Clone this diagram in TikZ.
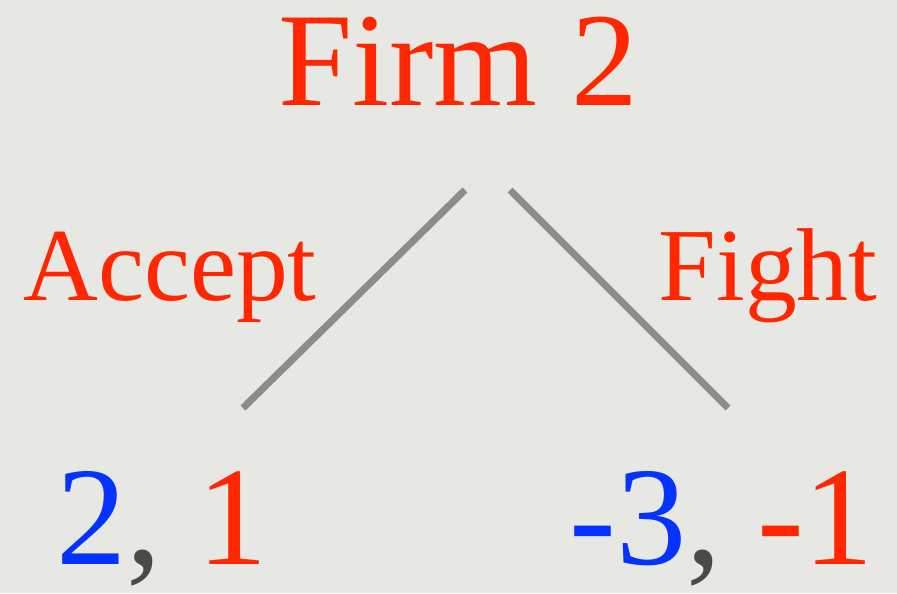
\documentclass[tikz,border=0pt]{standalone}
\usepackage{fontspec}
\setmainfont{Liberation Serif}
\usetikzlibrary{positioning}
\definecolor{slidebg}{HTML}{E7E7E4}
\definecolor{firmred}{HTML}{FF2600}
\definecolor{firmblue}{HTML}{0433FF}
\definecolor{edgegray}{HTML}{8C8C8A}
\definecolor{commagray}{HTML}{4A4A4A}
\tikzset{
  player/.style={anchor=base,text=firmred,inner sep=0pt,font=\fontsize{76}{86}\selectfont},
  move/.style={anchor=base,text=firmred,inner sep=0pt,font=\fontsize{59}{68}\selectfont},
  payoff/.style={anchor=base,inner sep=0pt,font=\fontsize{80}{90}\selectfont},
  branch/.style={draw=edgegray,line width=4pt}
}
\newcommand{\pa}[1]{\textcolor{firmblue}{#1}}
\newcommand{\pb}[1]{\textcolor{firmred}{#1}}
\newcommand{\cm}{\textcolor{commagray}{,}}

\begin{document}
\begin{tikzpicture}[x=0.02cm,y=-0.02cm]
  \fill[slidebg] (0,0) rectangle (897,593);
  \useasboundingbox (0,0) rectangle (897,593);
  % decision node and its moves
  \node[player] (firm) at (458,105) {Firm 2};
  \node[move] (accept) at (170,300) {Accept};
  \node[move] (fight) at (768,300) {Fight};
  \coordinate (lt) at (465,190);
  \coordinate (lb) at (243,408);
  \coordinate (rt) at (510,190);
  \coordinate (rb) at (728,408);
  \draw[branch] (lt) -- (lb);
  \draw[branch] (rt) -- (rb);
  % payoffs
  \node[payoff] (payA) at (162,564) {\pa{2}\cm{} \pb{1}};
  \node[payoff] (payF) at (722,564) {\pa{-3}\cm{} \pb{-1}};
\end{tikzpicture}
\end{document}
